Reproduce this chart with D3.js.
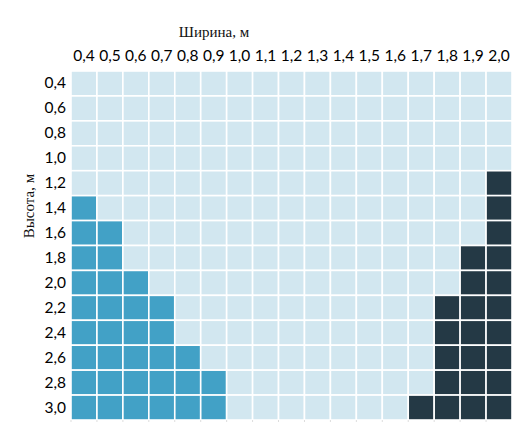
<!DOCTYPE html>
<html>
<head>
<meta charset="utf-8">
<script src="https://cdn.jsdelivr.net/npm/d3@7"></script>
<style>
body{margin:0;background:#fff;}
svg{display:block;}
.tick{font-family:Lato,"Open Sans",sans-serif;font-size:15.5px;fill:#000;}
.ttl{font-family:"Liberation Serif","DejaVu Serif",serif;font-size:15px;fill:#111;}
</style>
</head>
<body>
<div id="chart"></div>
<script>
// данные
var shirina = [0.4,0.5,0.6,0.7,0.8,0.9,1.0,1.1,1.2,1.3,1.4,1.5,1.6,1.7,1.8,1.9,2.0];
var vysota = [0.4,0.6,0.8,1.0,1.2,1.4,1.6,1.8,2.0,2.2,2.4,2.6,2.8,3.0];
// до какой ширины клетки синие (для каждой высоты)
var sinieDo = [null,null,null,null,null,0.4,0.5,0.5,0.6,0.7,0.7,0.8,0.9,0.9];
// с какой ширины клетки тёмные
var temnieOt = [null,null,null,null,2.0,2.0,2.0,1.9,1.9,1.8,1.8,1.8,1.8,1.7];

var colori = {svetly:"#d2e7f0", siny:"#42a1c6", temny:"#243945"};

var larghezza = 513, altezza = 422;
var fmt = function(v){ return v.toFixed(1).replace(".", ","); };

var svg = d3.select("#chart").append("svg")
  .attr("width", larghezza).attr("height", altezza);

var x = d3.scaleBand().domain(shirina).range([71,512]);
var y = d3.scaleBand().domain(vysota).range([71,420]);

var celle = [];
vysota.forEach(function(h,i){
  shirina.forEach(function(w){
    var tipo = "svetly";
    if (sinieDo[i] !== null && w <= sinieDo[i] + 1e-9) tipo = "siny";
    if (temnieOt[i] !== null && w >= temnieOt[i] - 1e-9) tipo = "temny";
    celle.push({w:w, h:h, tipo:tipo});
  });
});

svg.selectAll("rect.cella").data(celle).enter().append("rect")
  .attr("class","cella")
  .attr("x", function(d){ return x(d.w); })
  .attr("y", function(d){ return y(d.h); })
  .attr("width", x.bandwidth())
  .attr("height", y.bandwidth())
  .style("fill", function(d){ return colori[d.tipo]; })
  .style("stroke", "#fff")
  .style("stroke-width", 1.6);

// подписи сверху
svg.selectAll("text.col").data(shirina).enter().append("text")
  .attr("class","tick col")
  .attr("x", function(d){ return x(d) + x.bandwidth()/2; })
  .attr("y", 61)
  .attr("text-anchor","middle")
  .text(fmt);

// подписи слева
svg.selectAll("text.riga").data(vysota).enter().append("text")
  .attr("class","tick riga")
  .attr("x", 66)
  .attr("y", function(d){ return y(d) + y.bandwidth()/2 + 5; })
  .attr("text-anchor","end")
  .text(fmt);

// маленькие засечки внизу
svg.selectAll("line.zas").data(shirina).enter().append("line")
  .attr("x1", function(d){ return x(d); }).attr("x2", function(d){ return x(d); })
  .attr("y1", 420).attr("y2", 422)
  .style("stroke","#ddd").style("stroke-width",1);

svg.append("text").attr("class","ttl")
  .attr("x", 214).attr("y", 37)
  .attr("text-anchor","middle")
  .text("Ширина, м");

svg.append("text").attr("class","ttl")
  .attr("transform","translate(34,206) rotate(-90)")
  .attr("text-anchor","middle")
  .text("Высота, м");
</script>
</body>
</html>
